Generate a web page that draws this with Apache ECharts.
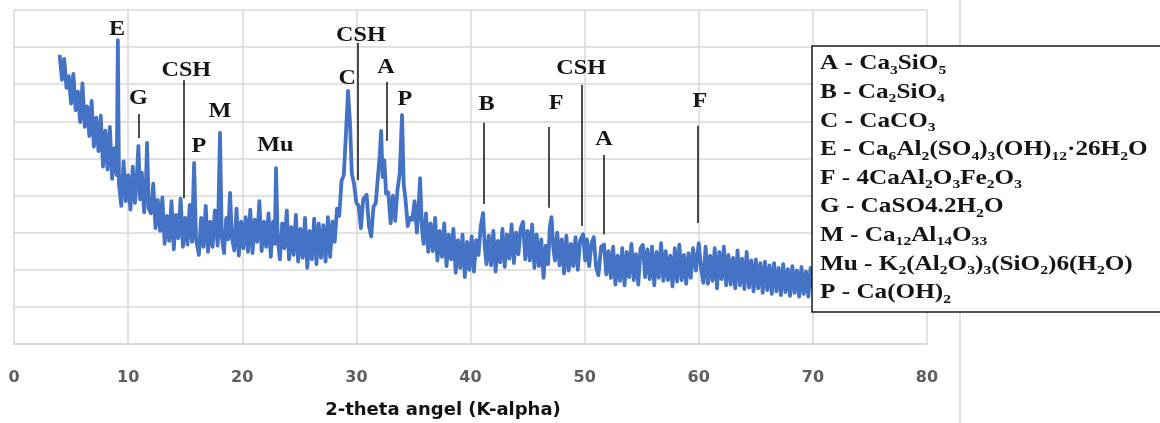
<!DOCTYPE html>
<html>
<head>
<meta charset="utf-8">
<title>XRD pattern</title>
<script src="https://cdn.jsdelivr.net/npm/echarts@6/dist/echarts.min.js"></script>
<style>
  html, body { margin: 0; padding: 0; background: #fff; }
  #chart { width: 1160px; height: 423px; }
</style>
</head>
<body>
<div id="chart"></div>
<script>
// 2-theta (deg) / intensity pairs, split in three ranges
const scanLow = [
  [4.0,779],[4.2,712],[4.4,768],[4.6,690],[4.8,722],[5.0,648],[5.2,728],[5.4,630],[5.6,680],[5.8,598],
  [6.0,702],[6.2,585],[6.4,640],[6.6,560],[6.8,655],[7.0,532],[7.2,610],[7.4,520],[7.6,615],[7.8,478],
  [8.0,575],[8.2,470],[8.4,585],[8.6,445],[8.8,528],[9.0,455],[9.1,819],[9.2,430],[9.4,372],[9.6,492],
  [9.8,385],[10.0,455],[10.2,362],[10.4,478],[10.6,380],[10.75,440],[10.9,534],[11.05,390],[11.2,462],[11.4,355],
  [11.55,420],[11.66,542],[11.8,365],[12.0,352],[12.2,432],[12.4,312],[12.6,388],[12.8,305],[13.0,395],[13.2,270],
  [13.4,345],[13.6,278],[13.8,385],[14.0,255],[14.2,348],[14.4,285],[14.6,392],[14.8,262],[15.0,340],[15.2,268],
  [15.4,375],[15.6,275],[15.78,488],[15.95,282],[16.2,240],[16.4,340],[16.6,262],[16.8,372],[17.0,248],[17.2,330],
  [17.4,262],[17.6,360],[17.85,265],[18.05,569],[18.2,290],[18.4,245],[18.6,340],[18.75,282],[18.93,407],[19.1,285],
  [19.3,252],[19.5,365],[19.7,238],[19.9,330]
];
const scanMid = [
  [20.1,258],[20.3,342],[20.5,248],[20.7,362],[20.9,245],[21.1,335],[21.3,275],[21.5,385],[21.7,250],[21.9,330],
  [22.1,262],[22.3,352],[22.5,235],[22.7,330],[22.85,270],[22.96,474],[23.1,285],[23.3,228],[23.5,325],[23.7,258],
  [23.9,360],[24.1,228],[24.3,315],[24.5,240],[24.7,348],[24.9,222],[25.1,310],[25.3,232],[25.5,340],[25.7,205],
  [25.9,305],[26.1,228],[26.3,338],[26.5,215],[26.7,325],[26.9,232],[27.1,320],[27.3,222],[27.5,342],[27.7,235],
  [27.9,330],[28.1,275],[28.3,365],[28.5,345],[28.7,440],[28.9,455],[29.1,575],[29.27,682],[29.45,590],[29.6,460],
  [29.8,430],[30.0,380],[30.2,372],[30.4,312],[30.6,390],[30.9,402],[31.1,318],[31.3,290],[31.5,370],[31.7,380],
  [31.9,455],[32.05,510],[32.17,574],[32.3,450],[32.45,495],[32.6,405],[32.8,408],[33.0,325],[33.2,400],[33.4,332],
  [33.6,415],[33.8,460],[34.0,617],[34.15,430],[34.3,390],[34.5,318],[34.7,340],[34.9,335],[35.1,385],[35.3,300],
  [35.45,365],[35.58,447],[35.75,310],[35.9,270],[36.1,352],[36.3,248],[36.5,325],[36.7,250],[36.9,340],[37.1,225],
  [37.3,305],[37.5,235],[37.7,325],[37.9,210],[38.1,295],[38.3,228],[38.5,310],[38.7,192],[38.9,280],[39.1,205],
  [39.3,295],[39.5,180],[39.7,275],[39.9,200]
];
const scanHigh = [
  [40.1,290],[40.3,195],[40.5,280],[40.7,240],[40.9,318],[41.1,353],[41.25,262],[41.4,215],[41.6,292],[41.8,212],
  [42.0,305],[42.2,195],[42.4,278],[42.6,220],[42.8,310],[43.0,208],[43.2,295],[43.4,230],[43.6,322],[43.8,218],
  [44.0,300],[44.2,242],[44.4,312],[44.6,329],[44.8,228],[45.0,305],[45.2,225],[45.4,322],[45.6,205],[45.8,295],
  [46.0,210],[46.2,282],[46.4,178],[46.6,265],[46.8,215],[46.95,315],[47.1,342],[47.25,262],[47.4,225],[47.6,300],
  [47.8,212],[48.0,282],[48.2,190],[48.4,292],[48.6,198],[48.8,270],[49.0,210],[49.2,288],[49.4,200],[49.6,278],
  [49.87,296],[50.05,225],[50.2,282],[50.4,210],[50.6,272],[50.8,288],[51.0,208],[51.2,185],[51.45,262],[51.7,268],
  [51.9,188],[52.1,250],[52.3,178],[52.5,262],[52.7,160],[52.9,238],[53.1,170],[53.3,258],[53.5,158],[53.7,248],
  [53.9,180],[54.1,270],[54.3,172],[54.5,242],[54.7,160],[54.9,258],[55.1,267],[55.3,180],[55.5,255],[55.7,175],
  [55.9,262],[56.1,158],[56.3,248],[56.5,178],[56.7,272],[56.9,170],[57.1,250],[57.3,172],[57.5,238],[57.7,155],
  [57.9,258],[58.1,168],[58.3,268],[58.5,172],[58.7,240],[58.9,162],[59.1,245],[59.3,178],[59.5,258],[59.75,198],
  [60.0,272],[60.2,205],[60.4,165],[60.6,262],[60.8,162],[61.0,238],[61.2,170],[61.4,258],[61.6,150],[61.8,248],
  [62.0,175],[62.2,262],[62.4,158],[62.6,240],[62.8,160],[63.0,232],[63.2,150],[63.4,252],[63.6,158],[63.8,230],
  [64.0,148],[64.2,248],[64.4,152],[64.6,225],[64.8,142],[65.0,228],[65.2,150],[65.4,218],[65.6,138],[65.8,222],
  [66.0,145],[66.2,212],[66.4,135],[66.6,218],[66.8,142],[67.0,205],[67.2,132],[67.4,215],[67.6,140],[67.8,202],
  [68.0,130],[68.2,210],[68.4,138],[68.6,198],[68.8,128],[69.0,208],[69.2,135],[69.4,195],[69.6,128],[69.8,205],
  [70.0,150]
];

// phase labels placed above peaks (data coordinates)
const peakNames = ['E', 'G', 'CSH', 'P', 'M', 'Mu', 'CSH', 'C', 'A', 'P', 'B', 'F', 'CSH', 'A', 'F'];
const peakNameTheta = [9.03, 10.9, 15.1, 16.2, 18.05, 22.9, 30.4, 29.2, 32.6, 34.25, 41.4, 47.5, 49.7, 51.7, 60.1];
const peakNameY = [846, 660, 738, 533, 625, 534, 830, 716, 744, 658, 644, 647, 741, 552, 652];

// black marker lines under some labels
const markerTheta = [10.91, 14.9, 30.09, 32.69, 41.19, 46.89, 49.78, 51.71, 59.95];
const markerTop = [620, 711, 811, 706, 596, 585, 698, 509, 588];
const markerBottom = [555, 393, 442, 547, 377, 367, 318, 296, 326];

// key; ~x~ = subscript
const keyRows = [
  'A - Ca~3~SiO~5~',
  'B - Ca~2~SiO~4~',
  'C - CaCO~3~',
  'E - Ca~6~Al~2~(SO~4~)~3~(OH)~12~\u00b726H~2~O',
  'F - 4CaAl~2~O~3~Fe~2~O~3~',
  'G - CaSO4.2H~2~O',
  'M - Ca~12~Al~14~O~33~',
  'Mu - K~2~(Al~2~O~3~)~3~(SiO~2~)6(H~2~O)',
  'P - Ca(OH)~2~'
];

const xTicks = [0, 10, 20, 30, 40, 50, 60, 70, 80];

const serif = "'Liberation Serif', 'Times New Roman', serif";
const chart = echarts.init(document.getElementById('chart'));

const markers = markerTheta.map((t, i) => [
  { coord: [t, markerTop[i]] },
  { coord: [t, markerBottom[i]] }
]);

chart.setOption({
  animation: false,
  grid: { left: 14, right: 233, top: 10, bottom: 79 },
  xAxis: {
    type: 'value',
    min: xTicks[0],
    max: xTicks[xTicks.length - 1],
    interval: 10,
    axisLine: { lineStyle: { color: '#d6d6d6', width: 1.5 } },
    axisTick: { show: false },
    axisLabel: {
      margin: 26,
      color: '#5e5e5e',
      fontSize: 16,
      fontWeight: 'bold',
      fontFamily: 'DejaVu Sans'
    },
    splitLine: { lineStyle: { color: '#d9d9d9', width: 1.5 } }
  },
  yAxis: {
    type: 'value',
    min: 0,
    max: 900,
    interval: 100,
    axisLine: { show: false },
    axisTick: { show: false },
    axisLabel: { show: false },
    splitLine: { lineStyle: { color: '#d9d9d9', width: 1.5 } }
  },
  series: [
    {
      type: 'line',
      data: scanLow.concat(scanMid, scanHigh),
      showSymbol: false,
      lineStyle: { color: '#4472C4', width: 3.8, join: 'round' },
      markLine: {
        silent: true,
        symbol: ['none', 'none'],
        label: { show: false },
        lineStyle: { color: '#111', width: 1.5, type: 'solid' },
        data: markers
      }
    }
  ]
});

// labels + key as graphic text (horizontally stretched like the source)
function richRow(s) {
  return s.split('~').map((p, i) => p === '' ? '' : (i % 2 ? '{s|' + p + '}' : '{b|' + p + '}')).join('');
}

const graphics = [];
graphics.push({
  type: 'line', z: 1,
  shape: { x1: 960, y1: 0, x2: 960, y2: 423 },
  style: { stroke: '#d9d9d9', lineWidth: 1.5 }
});
peakNames.forEach((name, i) => {
  const p = chart.convertToPixel({ gridIndex: 0 }, [peakNameTheta[i], peakNameY[i]]);
  graphics.push({
    type: 'text', x: p[0], y: p[1], scaleX: 1.15, z: 50,
    style: {
      text: name, fill: '#151515', font: 'bold 21px ' + serif,
      align: 'center', verticalAlign: 'middle'
    }
  });
});
graphics.push({
  type: 'rect', z: 100,
  shape: { x: 812, y: 46, width: 380, height: 266 },
  style: { fill: '#fff', stroke: '#1a1a1a', lineWidth: 1.5 }
});
keyRows.forEach((row, i) => {
  graphics.push({
    type: 'text', x: 820, y: 64 + i * 28.6, scaleX: 1.2, z: 101,
    style: {
      text: richRow(row),
      align: 'left', verticalAlign: 'middle',
      rich: {
        b: { fontSize: 21, fontWeight: 'bold', fontFamily: serif, fill: '#151515', lineHeight: 26 },
        s: { fontSize: 13, fontWeight: 'bold', fontFamily: serif, fill: '#151515', lineHeight: 14, verticalAlign: 'bottom' }
      }
    }
  });
});
graphics.push({
  type: 'text', x: 443, y: 410, z: 50,
  style: {
    text: '2-theta angel (K-alpha)', fill: '#111',
    font: 'bold 18px DejaVu Sans', align: 'center', verticalAlign: 'middle'
  }
});

chart.setOption({ graphic: graphics });
</script>
</body>
</html>
